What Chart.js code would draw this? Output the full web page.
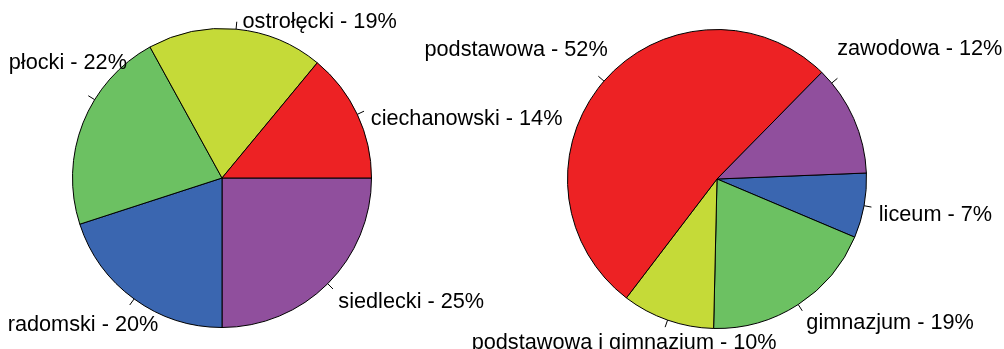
<!DOCTYPE html>
<html>
<head>
<meta charset="utf-8">
<script src="https://cdn.jsdelivr.net/npm/chart.js@4.4.1/dist/chart.umd.min.js"></script>
<style>
  html, body { margin: 0; padding: 0; background: #ffffff; }
  #wrap { position: relative; width: 1004px; height: 349px; overflow: hidden; }
  #wrap canvas { position: absolute; left: 0; top: 0; }
</style>
</head>
<body>
<div id="wrap">
  <canvas id="districtPie" width="1004" height="349"></canvas>
  <canvas id="schoolPie" width="1004" height="349"></canvas>
</div>
<script>
// Slices listed counter-clockwise, starting at three o'clock.
const districts = ['ciechanowski', 'ostrołęcki', 'płocki', 'radomski', 'siedlecki'];
const districtShares = [14, 19, 22, 20, 25];
const districtColors = ['#ED2224', '#C5DA38', '#6CC162', '#3A66B0', '#904F9D'];

const schools = ['zawodowa', 'podstawowa', 'podstawowa i gimnazjum', 'gimnazjum', 'liceum'];
const schoolShares = [12, 52, 10, 19, 7];
const schoolColors = ['#904F9D', '#ED2224', '#C5DA38', '#6CC162', '#3A66B0'];

// Label placement: tick angle adjustments (degrees, counter-clockwise) and text nudges (px).
const districtLabelLayout = {
  tickTurn: [0, 0, -10, 0, 0],
  shift: [[0, 3], [5, 0], [45, -37], [33, 6], [0, 0]]
};
const schoolLabelLayout = {
  tickTurn: [16, 0, 0, 0, 0],
  shift: [[-6, -32], [15, -29], [114, 1], [0, -2], [0, -1]]
};

const FONT = '21.7px "Liberation Sans", Arial, sans-serif';

// Chart.js sweeps clockwise, so feed the slices in reverse to get a counter-clockwise pie.
function rev(a) { return a.slice().reverse(); }

const outsideLabels = {
  id: 'outsideLabels',
  afterDatasetsDraw(chart, args, opts) {
    const ctx = chart.ctx;
    const meta = chart.getDatasetMeta(0);
    const data = chart.data.datasets[0].data;
    const names = chart.data.labels;
    const n = data.length;
    ctx.save();
    ctx.font = FONT;
    ctx.fillStyle = '#000000';
    ctx.strokeStyle = '#000000';
    ctx.lineWidth = 1;
    ctx.textBaseline = 'middle';
    meta.data.forEach((arc, j) => {
      const p = arc.getProps(['x', 'y', 'startAngle', 'endAngle', 'outerRadius'], true);
      const k = n - 1 - j; // index in the counter-clockwise listing
      const turn = opts.layout.tickTurn[k] * Math.PI / 180;
      const a = (p.startAngle + p.endAngle) / 2 - turn; // canvas angle (clockwise)
      const cx = Math.cos(a), sy = Math.sin(a);
      const r = p.outerRadius;
      ctx.beginPath();
      ctx.moveTo(p.x + cx * r, p.y + sy * r);
      ctx.lineTo(p.x + cx * r * 1.05, p.y + sy * r * 1.05);
      ctx.stroke();
      const ax = p.x + cx * r * 1.1;
      const ay = p.y + sy * r * 1.1;
      const [dx, dy] = opts.layout.shift[k];
      ctx.textAlign = cx >= 0 ? 'left' : 'right';
      ctx.fillText(names[j] + ' - ' + data[j] + '%', ax + dx, ay + 8 + dy);
    });
    ctx.restore();
  }
};

function makePie(canvasId, names, values, colors, rotation, padding, layout) {
  return new Chart(document.getElementById(canvasId), {
    type: 'pie',
    data: {
      labels: rev(names),
      datasets: [{
        data: rev(values),
        backgroundColor: rev(colors),
        borderColor: '#000000',
        borderWidth: 1,
        hoverOffset: 0
      }]
    },
    options: {
      responsive: false,
      animation: false,
      events: [],
      rotation: rotation,
      layout: { padding: padding },
      plugins: {
        legend: { display: false },
        tooltip: { enabled: false },
        outsideLabels: { layout: layout }
      }
    },
    plugins: [outsideLabels]
  });
}

makePie('districtPie', districts, districtShares, districtColors, 90,
  { left: 72, top: 28, right: 632, bottom: 21 }, districtLabelLayout);
makePie('schoolPie', schools, schoolShares, schoolColors, 87.7,
  { left: 567, top: 29, right: 137, bottom: 20 }, schoolLabelLayout);
</script>
</body>
</html>
